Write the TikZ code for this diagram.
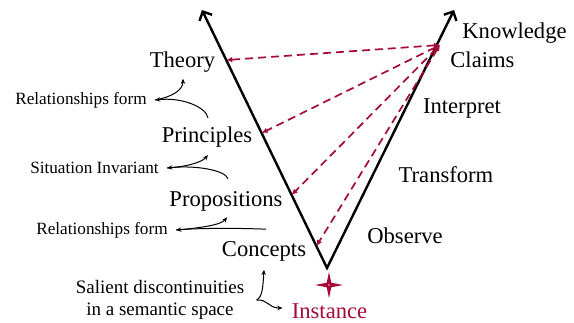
\documentclass[tikz,border=0pt]{standalone}
\usepackage{fontspec}
\setmainfont{Liberation Serif}
\usetikzlibrary{arrows.meta,calc}
\definecolor{crim}{RGB}{165,10,55}
\begin{document}
\begin{tikzpicture}[x=0.5pt,y=-0.5pt,
  lbl/.style={inner sep=0pt,font=\fontsize{11.3}{13}\selectfont},
  note/.style={inner ysep=0pt,inner xsep=4pt,font=\fontsize{8.6}{10}\selectfont},
  bignote/.style={inner ysep=0pt,inner xsep=6pt,align=center,font=\fontsize{9.5}{11}\selectfont},
  arm/.style={line width=1.2pt,line join=miter,
    {Straight Barb[length=3.5pt,width=7pt]}-{Straight Barb[length=3.5pt,width=7pt]}},
  link/.style={crim,line width=0.85pt,dash pattern=on 4pt off 2.5pt,
    {Latex[length=3pt,width=2.8pt]}-{Latex[length=3pt,width=2.8pt]}},
  arr/.style={line width=0.5pt,-{Stealth[length=2.6pt,width=2.2pt]}}]
\useasboundingbox (0,0) rectangle (574,322);
\fill[white] (0,0) rectangle (574,322);

% V shape
\coordinate (V) at (327,268);
\coordinate (L) at (202,10);
\coordinate (R) at (454,10);
\draw[arm] (L) -- (V) -- (R);

% points on left arm and claims point
\coordinate (pT) at ($(V)!0.806!(L)$);
\coordinate (pP) at ($(V)!0.523!(L)$);
\coordinate (pR) at ($(V)!0.283!(L)$);
\coordinate (pC) at ($(V)!0.085!(L)$);
\coordinate (K) at (440,45);

\draw[link] (K) -- (pT);
\draw[link] (K) -- (pP);
\draw[link] (K) -- (pR);
\draw[link] (K) -- (pC);

% left labels
\node[lbl] (theory) at (182.5,62) {Theory};
\node[lbl] (princ) at (207,137.5) {Principles};
\node[lbl] (props) at (226,201) {Propositions};
\node[lbl] (conc) at (264,251.5) {Concepts};
\node[lbl,text=crim] (inst) at (329.5,311) {Instance};

% right labels
\node[lbl,anchor=west] (know) at (462,33) {Knowledge};
\node[lbl,anchor=west] (claims) at (450,60) {Claims};
\node[lbl] (interp) at (462,108.5) {Interpret};
\node[lbl] (trans) at (446,175) {Transform};
\node[lbl] (obs) at (405,236) {Observe};

% notes
\node[note] (rel1) at (81,100) {Relationships form};
\node[note] (sit) at (94.5,168) {Situation Invariant};
\node[note] (rel2) at (102,230) {Relationships form};
\node[bignote] (sal) at (160,300) {Salient discontinuities\\in a semantic space};

% curved arrows
\draw[arr] (rel1.east) .. controls (172,97) and (183,90) .. ($(theory.south)+(0.5,6)$);
\draw[arr] ($(princ.north)+(1,-9)$) .. controls (206,107) and (182,97) .. (rel1.east);
\draw[arr] (sit.east) .. controls (184,167) and (201,163) .. ($(princ.south)+(1,7)$);
\draw[arr] ($(props.north)+(2,-12)$) .. controls (225,170) and (195,165) .. (sit.east);
\draw[arr] (rel2.east) .. controls (200,228) and (221,225) .. ($(props.south)+(1,6)$);
\draw[arr] ($(conc.north)+(2,-12)$) .. controls (240,228) and (200,228) .. (rel2.east);
\draw[arr] (sal.east) .. controls (263,297) and (263,284) .. ($(conc.south)+(0,8)$);
\draw[arr] (sal.east) .. controls (268,299) and (268,308) .. ($(inst.west)+(-9,-3)$);

% star
\coordinate (S) at (329,285);
\fill[crim] ($(S)+(0,-13)$) -- ($(S)+(2.3,-2.3)$) -- ($(S)+(14,0)$) -- ($(S)+(2.3,2.3)$)
  -- ($(S)+(0,13)$) -- ($(S)+(-2.3,2.3)$) -- ($(S)+(-14,0)$) -- ($(S)+(-2.3,-2.3)$) -- cycle;
\fill[white,opacity=0.7] (S) circle (0.9);
\end{tikzpicture}
\end{document}
